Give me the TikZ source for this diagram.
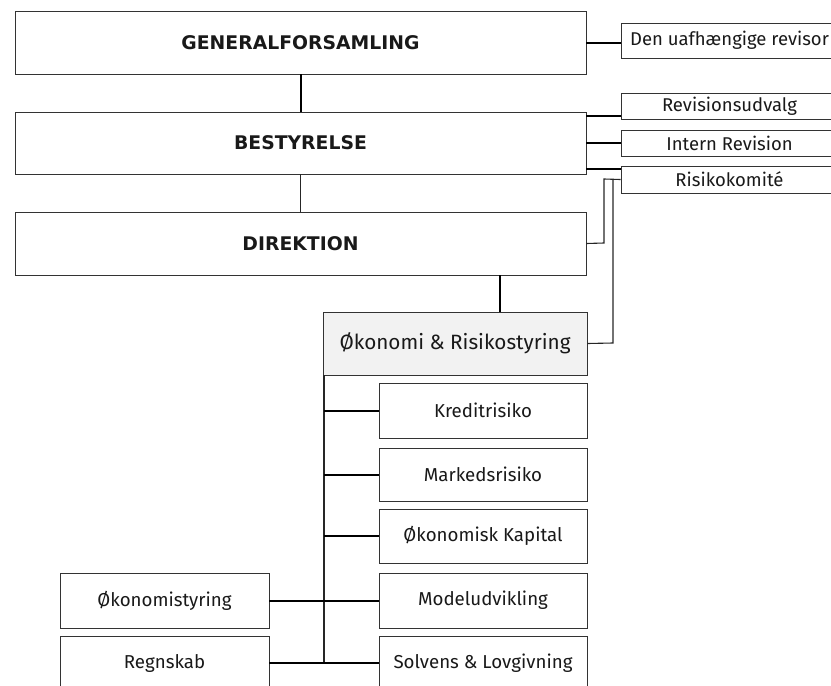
\documentclass[tikz,border=0pt]{standalone}
\usepackage{fontspec}
\setmainfont{Fira Sans}
\newfontfamily\headfont{DejaVu Sans}
\begin{document}
\begin{tikzpicture}[x=1pt,y=-1pt,
  box/.style={draw=black!80,line width=0.9pt,rectangle,inner sep=0pt,text=black!90},
  head/.style={box,font=\headfont\bfseries\fontsize{18.8}{22}\selectfont},
  sub/.style={box,font=\fontsize{18.7}{22}\selectfont},
  side/.style={box,font=\fontsize{18.5}{22}\selectfont},
  thick conn/.style={line width=2pt,black},
  thin conn/.style={line width=1.1pt,black!85}]
\useasboundingbox (0,0) rectangle (831,686);
\clip (0,0) rectangle (831,686);
% main column
\node[head,minimum width=571,minimum height=63] (gen) at (300.5,42.5) {GENERALFORSAMLING};
\node[head,minimum width=571,minimum height=62] (best) at (300.5,143) {BESTYRELSE};
\node[head,minimum width=571,minimum height=63] (dir) at (300.5,243.5) {DIREKTION};
% right side
\node[side,minimum width=217,minimum height=35] (rev) at (729.5,40.5) {Den uafhængige revisor};
\node[side,minimum width=217,minimum height=26] (rsu) at (729.5,106) {Revisionsudvalg};
\node[side,minimum width=217,minimum height=26] (irev) at (729.5,143) {Intern Revision};
\node[side,minimum width=217,minimum height=27] (risk) at (729.5,179.5) {Risikokomité};
% department
\node[box,fill=black!5,font=\fontsize{20.7}{24}\selectfont,minimum width=264,minimum height=63] (oek) at (455,343.5) {Økonomi \& Risikostyring};
\node[sub,minimum width=208,minimum height=55] (kred) at (483,410.5) {Kreditrisiko};
\node[sub,minimum width=208,minimum height=53] (mark) at (483,474.5) {Markedsrisiko};
\node[sub,minimum width=208,minimum height=54] (okap) at (483,536) {Økonomisk Kapital};
\node[sub,minimum width=208,minimum height=55] (model) at (483,600.5) {Modeludvikling};
\node[sub,minimum width=208,minimum height=54] (solv) at (483,663) {Solvens \& Lovgivning};
\node[sub,minimum width=209,minimum height=55] (oest) at (164.5,600.5) {Økonomistyring};
\node[sub,minimum width=209,minimum height=54] (regn) at (164.5,663) {Regnskab};
% coordinates
\coordinate (spT) at (324,375);
\coordinate (spB) at (324,663);
\coordinate (d1) at (604,243);
\coordinate (d2) at (604,179);
\coordinate (o1) at (613,343);
\coordinate (o2) at (613,179);
% connectors
\draw[thick conn] (gen.south) -- (best.north);
\draw[thin conn] (best.south) -- (dir.north);
\draw[thick conn] (gen.east) -- (gen.east -| rev.west);
\draw[thick conn] (best.east |- 0,116) -- (rsu.west |- 0,116);
\draw[thick conn] (best.east) -- (irev.west);
\draw[thick conn] (best.east |- 0,169) -- (risk.west |- 0,169);
\draw[thin conn] (dir.east) -- (d1) -- (d2) -- (risk.west);
\draw[thin conn] (oek.east) -- (o1) -- (o2);
\draw[thick conn] (dir.south -| 500,0) -- (oek.north -| 500,0);
\draw[thin conn] (spT) -- (spB);
\draw[thick conn] (spT |- kred.west) -- (kred.west);
\draw[thick conn] (spT |- mark.west) -- (mark.west);
\draw[thick conn] (spT |- okap.west) -- (okap.west);
\draw[thick conn] (oest.east) -- (model.west);
\draw[thick conn] (regn.east) -- (solv.west);
\end{tikzpicture}
\end{document}
